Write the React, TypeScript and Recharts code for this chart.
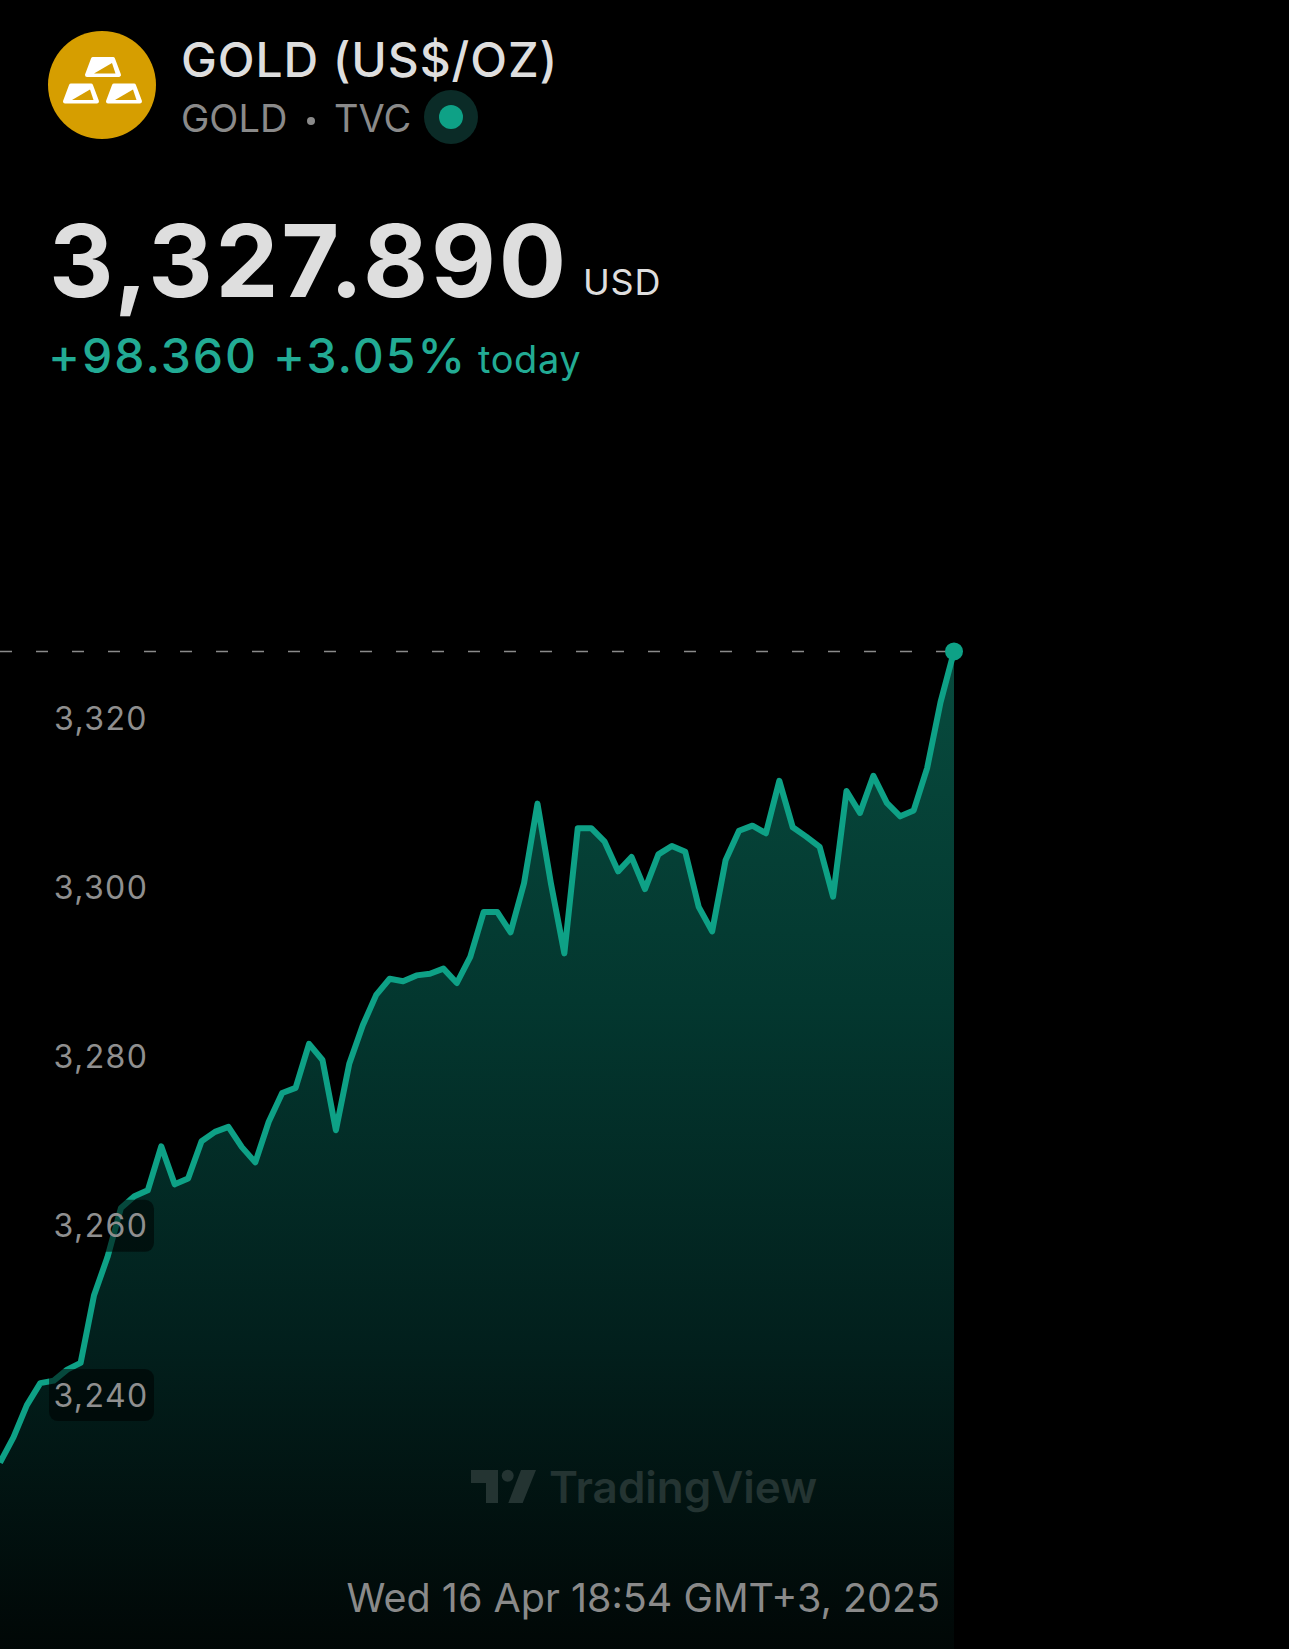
import { Area, ComposedChart, ReferenceDot, ReferenceLine, XAxis, YAxis } from 'recharts';

const prices = [
  3232.0, 3235.0, 3238.8, 3241.4, 3241.7, 3243.0, 3243.8, 3251.8, 3256.3, 3262.1, 3263.5, 3264.2,
  3269.4, 3264.9, 3265.6, 3270.0, 3271.1, 3271.7, 3269.3, 3267.5, 3272.3, 3275.7, 3276.3, 3281.5,
  3279.6, 3271.3, 3279.2, 3283.7, 3287.3, 3289.2, 3288.9, 3289.6, 3289.8, 3290.4, 3288.7, 3291.8,
  3297.1, 3297.1, 3294.7, 3300.5, 3309.9, 3300.5, 3292.2, 3307.0, 3307.0, 3305.4, 3301.9, 3303.6,
  3299.8, 3303.9, 3304.9, 3304.2, 3297.7, 3294.8, 3303.2, 3306.7, 3307.3, 3306.4, 3312.6, 3307.1,
  3306.0, 3304.8, 3298.9, 3311.4, 3308.8, 3313.2, 3310.0, 3308.4, 3309.1, 3314.1, 3321.9, 3327.89,
];
const priceTicks = [3240, 3260, 3280, 3300, 3320];
const lastPrice = prices[prices.length - 1];

const chartData = prices.map((price, index) => ({ index, price }));

const GREEN = '#0ea186';
const SANS = 'Inter, "Noto Sans", sans-serif';

function PriceTick({ x, y, payload }: any) {
  return (
    <g>
      <rect x={x + 41} y={y - 26} width={105} height={52} rx={9} fill="#000" fillOpacity={0.55} />
      <text
        x={x + 93}
        y={y}
        dy={11.5}
        textAnchor="middle"
        fontFamily={SANS}
        fontSize={32}
        letterSpacing={1.4}
        fill="#8f8f8f"
      >
        {payload.value.toLocaleString('en-US')}
      </text>
    </g>
  );
}

function GoldBar({ x, y }: { x: number; y: number }) {
  return (
    <g transform={`translate(${x} ${y})`}>
      <path d="M8 2 H28 L34 18 H2 Z" fill="#fff" stroke="#fff" strokeWidth={4} strokeLinejoin="round" />
      <path d="M9 16.5 L27 6 L30.5 16.5 Z" fill="#d69e00" />
    </g>
  );
}

function Header() {
  return (
    <svg
      width={1289}
      height={420}
      style={{ position: 'absolute', left: 0, top: 0 }}
      fontFamily={SANS}
    >
      <circle cx={102} cy={85} r={54} fill="#d69e00" />
      <GoldBar x={85} y={57} />
      <GoldBar x={63} y={83.5} />
      <GoldBar x={106} y={83.5} />

      <text x={181} y={77} fontSize={48} fontWeight={500} letterSpacing={0.9} fill="#dedede">
        GOLD (US$/OZ)
      </text>
      <text x={181} y={132} fontSize={38} fill="#8a8a8a">
        GOLD
      </text>
      <circle cx={311} cy={121} r={4} fill="#8a8a8a" />
      <text x={334} y={132} fontSize={38} fill="#8a8a8a">
        TVC
      </text>
      <circle cx={451} cy={117} r={27} fill="#0b2b27" />
      <circle cx={451} cy={117} r={12} fill={GREEN} />

      <text x={49} y={297} fontSize={100} fontWeight={700} letterSpacing={2.8} fill="#dedede">
        3,327.890
      </text>
      <text x={583} y={295} fontSize={36} letterSpacing={0.8} fill="#dedede">
        USD
      </text>
      <text x={48} y={373} fontSize={48} fontWeight={500} letterSpacing={2} fill="#22ab94">
        +98.360 +3.05%
      </text>
      <text x={478} y={373} fontSize={38} letterSpacing={0.6} fill="#22ab94">
        today
      </text>
    </svg>
  );
}

function Footer() {
  return (
    <svg
      width={1289}
      height={209}
      viewBox="0 1440 1289 209"
      style={{ position: 'absolute', left: 0, top: 1440 }}
      fontFamily={SANS}
    >
      <g fill="#243432">
        <path d="M471 1470 H498 V1503 H486 V1483 H471 Z" />
        <circle cx={507.7} cy={1475.7} r={6} />
        <path d="M521 1470 H536 L522.7 1503 H508.3 Z" />
      </g>
      <text x={549} y={1503} fontSize={44} fontWeight={600} fill="#243432">
        TradingView
      </text>
      <text x={940} y={1612} textAnchor="end" fontSize={39.5} fill="#8a8a8a">
        Wed 16 Apr 18:54 GMT+3, 2025
      </text>
    </svg>
  );
}

export default function App() {
  return (
    <div style={{ position: 'absolute', left: 0, top: 0, width: 1289, height: 1649, background: '#000', overflow: 'hidden' }}>
      <ComposedChart
        width={1289}
        height={1649}
        data={chartData}
        margin={{ top: 0, right: 335, bottom: 0, left: 0 }}
      >
        <defs>
          <linearGradient id="priceFill" x1="0" y1="0" x2="0" y2="1">
            <stop offset="0%" stopColor="#084b3e" />
            <stop offset="35%" stopColor="#03372f" />
            <stop offset="70%" stopColor="#021f1c" />
            <stop offset="100%" stopColor="#010706" />
          </linearGradient>
        </defs>
        <XAxis dataKey="index" type="number" domain={[0, 71]} hide />
        <ReferenceLine y={lastPrice} stroke="#8a8a8a" strokeWidth={1.5} strokeDasharray="12 24" />
        <Area
          type="linear"
          dataKey="price"
          stroke={GREEN}
          strokeWidth={6}
          strokeLinejoin="round"
          fill="url(#priceFill)"
          fillOpacity={1}
          dot={false}
          activeDot={false}
          isAnimationActive={false}
        />
        <YAxis
          domain={[3209.98, 3404.89]}
          ticks={priceTicks}
          tick={PriceTick}
          axisLine={false}
          tickLine={false}
          mirror
          width={1}
          allowDataOverflow
        />
        <ReferenceDot x={71} y={lastPrice} r={9} fill={GREEN} stroke="none" />
      </ComposedChart>
      <Header />
      <Footer />
    </div>
  );
}
